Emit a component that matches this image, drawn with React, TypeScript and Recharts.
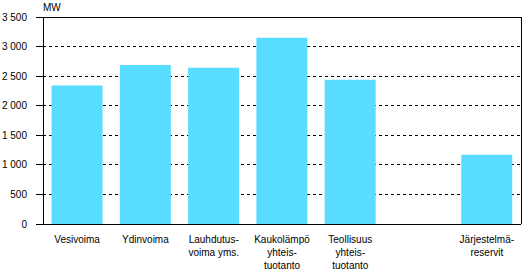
import React from "react";
import {
  Bar,
  BarChart,
  CartesianGrid,
  ReferenceLine,
  XAxis,
  YAxis,
} from "recharts";

// category labels (line breaks as in the original)
const categories = [
  "Vesivoima",
  "Ydinvoima",
  "Lauhdutus-\nvoima yms.",
  "Kaukolämpö\nyhteis-\ntuotanto",
  "Teollisuus\nyhteis-\ntuotanto",
  "",
  "Järjestelmä-\nreservit",
];

// capacity, MW
const capacity = [2340, 2690, 2640, 3150, 2440, null, 1170];

const yTicks = [0, 500, 1000, 1500, 2000, 2500, 3000, 3500];

const data = categories.map((name, i) => ({ name, mw: capacity[i] }));

const font = "'Liberation Sans', Arial, sans-serif";

const fmt = (v: number) => String(v).replace(/\B(?=(\d{3})+(?!\d))/g, " ");

function CategoryTick({ x, y, payload }: any) {
  const lines = String(payload.value).split("\n");
  return (
    <text x={x} y={y} textAnchor="middle" fontSize={10} fontFamily={font} fill="#000">
      {lines.map((l, i) => (
        <tspan key={i} x={x} y={y + 19 + i * 13}>
          {l}
        </tspan>
      ))}
    </text>
  );
}

const crisp = { stroke: "#000", shapeRendering: "crispEdges" } as any;

export default function App() {
  return (
    <div style={{ position: "absolute", left: 0, top: 0, width: 523, height: 272, background: "#fff" }}>
      <div
        style={{
          position: "absolute",
          left: 43,
          top: 2,
          fontSize: 10,
          fontFamily: font,
          color: "#000",
        }}
      >
        MW
      </div>
      <BarChart
        width={523}
        height={272}
        data={data}
        margin={{ top: 17, right: 0, left: 0, bottom: 0 }}
        barCategoryGap="12.5%"
      >
        <CartesianGrid
          horizontal
          vertical={false}
          stroke="#000"
          strokeDasharray="3 3"
          shapeRendering="crispEdges"
          yAxisId="left"
        />
        <XAxis
          dataKey="name"
          interval={0}
          tickLine={false}
          tickSize={0}
          tickMargin={0}
          axisLine={crisp}
          tick={<CategoryTick />}
          height={48}
        />
        <YAxis
          yAxisId="left"
          domain={[0, 3500]}
          ticks={yTicks}
          width={43}
          tickSize={7}
          tickMargin={9}
          tickFormatter={fmt}
          axisLine={crisp}
          tickLine={crisp}
          tick={{ fill: "#000", fontSize: 10, fontFamily: font }}
        />
        <YAxis
          yAxisId="right"
          orientation="right"
          domain={[0, 3500]}
          width={2}
          tick={false}
          tickLine={false}
          axisLine={crisp}
        />
        <ReferenceLine yAxisId="left" y={3500} stroke="#000" shapeRendering="crispEdges" />
        <Bar yAxisId="left" dataKey="mw" fill="#58DCFF" isAnimationActive={false} />
      </BarChart>
    </div>
  );
}
